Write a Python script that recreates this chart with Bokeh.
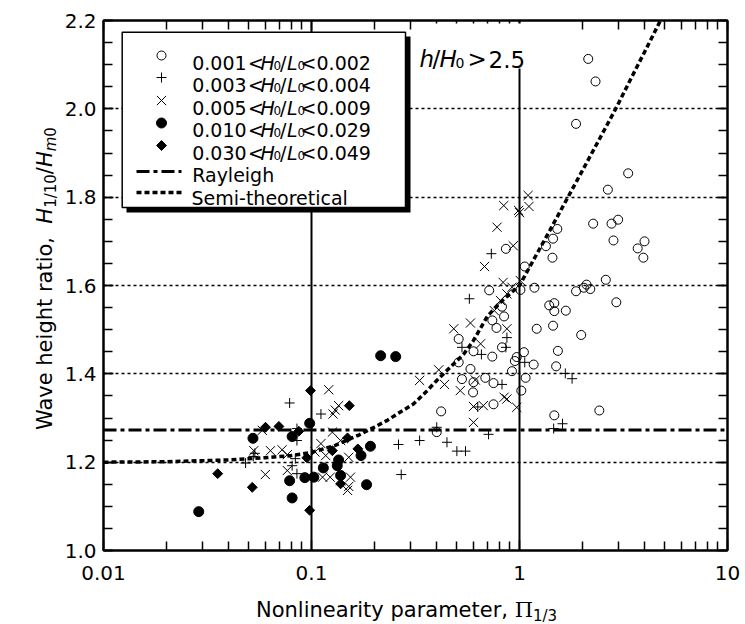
import math
from bokeh.plotting import figure
from bokeh.layouts import row, column
from bokeh.models import (FixedTicker, LogAxis, LinearAxis, Label, BoxAnnotation, Div,
                          CustomJSTickFormatter, PrintfTickFormatter, Span)
from bokeh.embed import file_html
from bokeh.resources import INLINE

# ---------------- data ----------------
# 0.001 < H0/L0 < 0.002  (open circles)
x1 = [2.14, 2.32, 1.87, 3.33, 2.66, 2.26, 2.77, 2.98, 1.52, 1.45, 1.34, 2.83, 3.99, 3.70, 3.94, 1.44,
      0.86, 1.06, 2.60, 2.10, 2.19, 2.04, 1.87, 1.18, 1.01, 0.715, 2.92, 1.39, 1.47, 1.47, 1.67, 0.74,
      0.775, 0.843, 0.824, 1.45, 1.21, 1.98, 0.51, 0.601, 0.74, 0.824, 1.53, 1.05, 0.97, 0.95, 1.17,
      1.50, 0.92, 0.51, 0.581, 0.529, 0.601, 0.685, 0.75, 0.598, 1.07, 1.02, 0.75, 0.42, 0.40, 1.47, 2.42]
y1 = [2.113, 2.062, 1.966, 1.854, 1.817, 1.740, 1.740, 1.749, 1.728, 1.706, 1.689, 1.702, 1.700, 1.684,
      1.663, 1.663, 1.683, 1.643, 1.613, 1.602, 1.592, 1.595, 1.587, 1.595, 1.590, 1.589, 1.562, 1.555,
      1.560, 1.542, 1.543, 1.521, 1.504, 1.530, 1.552, 1.509, 1.502, 1.488, 1.479, 1.451, 1.439, 1.460,
      1.452, 1.449, 1.438, 1.429, 1.421, 1.417, 1.406, 1.426, 1.411, 1.388, 1.381, 1.391, 1.379, 1.358,
      1.391, 1.362, 1.331, 1.315, 1.268, 1.306, 1.317]
# 0.003 < H0/L0 < 0.004  (plus)
x2 = [0.0785, 0.111, 0.0851, 0.0851, 0.0836, 0.0807, 0.0851, 0.262, 0.0525, 0.0482, 0.0534, 0.732,
      0.574, 0.529, 0.656, 0.87, 0.86, 0.824, 0.400, 1.06, 1.66, 1.79, 1.61, 1.46, 0.331, 0.448, 0.50,
      0.55, 0.71, 0.27, 0.63]
y2 = [1.334, 1.309, 1.276, 1.249, 1.208, 1.192, 1.174, 1.240, 1.213, 1.198, 1.220, 1.672, 1.570, 1.460,
      1.444, 1.482, 1.460, 1.376, 1.279, 1.426, 1.401, 1.389, 1.287, 1.276, 1.249, 1.245, 1.225, 1.225,
      1.263, 1.172, 1.325]
# 0.005 < H0/L0 < 0.009  (x)
x3 = [0.121, 0.130, 0.135, 0.127, 0.0580, 0.126, 0.0528, 0.0635, 0.0722, 0.0765, 0.111, 0.104, 0.117,
      0.138, 0.151, 0.060, 0.0765, 0.113, 0.123, 0.138, 0.154, 0.151, 0.149,
      0.679, 0.933, 0.834, 0.757, 0.81, 0.87, 0.92, 0.483, 0.581, 0.87, 0.65, 0.331, 0.409, 0.436, 0.519,
      0.613, 0.601, 0.67, 0.843, 0.97, 0.601,
      1.10, 1.11, 0.99, 0.84, 1.0, 0.78, 1.01, 0.87]
y3 = [1.364, 1.318, 1.328, 1.309, 1.272, 1.268, 1.226, 1.226, 1.228, 1.217, 1.242, 1.223, 1.215,
      1.249, 1.211, 1.172, 1.181, 1.166, 1.166, 1.158, 1.166, 1.145, 1.136,
      1.643, 1.690, 1.607, 1.543, 1.566, 1.581, 1.596, 1.502, 1.515, 1.502, 1.468, 1.385, 1.409, 1.376,
      1.362, 1.386, 1.326, 1.328, 1.347, 1.324, 1.290,
      1.804, 1.779, 1.770, 1.781, 1.765, 1.732, 1.611, 1.343]
# 0.010 < H0/L0 < 0.029  (filled circles)
x4 = [0.0287, 0.0523, 0.098, 0.0807, 0.192, 0.173, 0.135, 0.133, 0.114, 0.0785, 0.0929, 0.1026, 0.138,
      0.184, 0.0807, 0.215, 0.254]
y4 = [1.088, 1.254, 1.288, 1.258, 1.236, 1.215, 1.205, 1.192, 1.187, 1.158, 1.165, 1.166, 1.170,
      1.149, 1.119, 1.441, 1.439]
# 0.030 < H0/L0 < 0.049  (filled diamonds)
x5 = [0.0989, 0.152, 0.0601, 0.0697, 0.0869, 0.149, 0.126, 0.167, 0.095, 0.0519, 0.138, 0.098, 0.0354]
y5 = [1.362, 1.328, 1.279, 1.281, 1.270, 1.255, 1.226, 1.230, 1.210, 1.143, 1.151, 1.091, 1.174]

# semi-theoretical curve
semi_x = [0.01, 0.02, 0.04, 0.06, 0.08, 0.10, 0.13, 0.17, 0.20, 0.23, 0.26, 0.31, 0.36, 0.40, 0.465,
          0.54, 0.60, 0.70, 0.80, 1.0, 1.2, 1.4, 1.71, 2.0, 2.4, 2.9, 3.5, 4.2, 4.76]
semi_y = [1.200, 1.201, 1.205, 1.210, 1.215, 1.222, 1.238, 1.262, 1.279, 1.294, 1.310, 1.332, 1.362,
          1.385, 1.415, 1.445, 1.475, 1.530, 1.560, 1.600, 1.668, 1.725, 1.800, 1.859, 1.928, 2.000,
          2.076, 2.149, 2.200]
rayleigh = 1.273

x_ticks = [0.01, 0.1, 1, 10]
y_ticks = [1.0, 1.2, 1.4, 1.6, 1.8, 2.0, 2.2]
x_range = (0.01, 10)
y_range = (1.0, 2.2)

# ---------------- layout ----------------
W, H = 745, 624
FL, FR, FT, FB = 103, 727, 20, 550      # frame edges in page pixels
YT_W, XT_H = 60, 28                      # side strips that hold the axis titles
FONT = "DejaVu Sans"

x_minor = [d * k for d in x_ticks[:-1] for k in range(2, 10)]
y_minor = [round(y_range[0] + 0.05 * i, 2) for i in range(int(round((y_range[1] - y_range[0]) / 0.05)) + 1)]
y_grid = y_ticks[1:-1]

p = figure(width=W - YT_W, height=H - XT_H, x_axis_type="log", x_range=x_range, y_range=y_range,
           output_backend="svg", toolbar_location=None,
           min_border_left=FL - YT_W, min_border_right=W - FR, min_border_top=FT,
           min_border_bottom=H - XT_H - FB)
p.background_fill_color = "white"
p.border_fill_color = "white"
p.outline_line_color = "black"
p.outline_line_width = 2


def px_x(X):
    lo, hi = math.log10(x_range[0]), math.log10(x_range[1])
    return 10 ** (lo + (hi - lo) * (X - FL) / (FR - FL))


def px_y(Y):
    return y_range[0] + (y_range[1] - y_range[0]) * (FB - Y) / (FB - FT)


def style_axis(ax, labels=True):
    ax.axis_line_width = 2
    ax.axis_line_color = "black"
    ax.major_tick_in = 10
    ax.major_tick_out = 0
    ax.minor_tick_in = 9
    ax.minor_tick_out = 0
    ax.major_tick_line_width = 1.5
    ax.minor_tick_line_width = 1.5
    ax.major_tick_line_color = "black"
    ax.minor_tick_line_color = "black"
    ax.major_label_text_font = FONT
    ax.major_label_text_font_size = "20px"
    ax.major_label_text_color = "black"
    if not labels:
        ax.formatter = CustomJSTickFormatter(code="return ''")
        ax.major_label_standoff = 0


xt = FixedTicker(ticks=x_ticks, minor_ticks=x_minor)
yt = FixedTicker(ticks=y_ticks, minor_ticks=y_minor)
p.xaxis.ticker = xt
p.yaxis.ticker = yt
p.xaxis.formatter = CustomJSTickFormatter(code="return String(tick)")
p.yaxis.formatter = PrintfTickFormatter(format="%.1f")
style_axis(p.xaxis[0])
style_axis(p.yaxis[0])
p.xaxis.major_label_standoff = 15
p.yaxis.major_label_standoff = 7

top = LogAxis(ticker=xt)
style_axis(top, labels=False)
right = LinearAxis(ticker=yt)
style_axis(right, labels=False)
p.add_layout(top, "above")
p.add_layout(right, "right")

p.xgrid.ticker = FixedTicker(ticks=[0.1, 1])
p.xgrid.grid_line_color = "black"
p.xgrid.grid_line_width = 2
p.ygrid.ticker = FixedTicker(ticks=y_grid)
p.ygrid.grid_line_color = "black"
p.ygrid.grid_line_width = 1.5
p.ygrid.grid_line_dash = "3 3"

# reference lines
p.add_layout(Span(location=rayleigh, dimension="width", line_color="black", line_width=3,
                  line_dash="13 4 4 4"))
p.line(semi_x, semi_y, line_color="black", line_width=3.5, line_dash="5 3")

# data markers
p.scatter(x1, y1, marker="circle", size=9, fill_color=None, line_color="black", line_width=1)
p.scatter(x2, y2, marker="cross", size=10, line_color="black", line_width=1)
p.scatter(x3, y3, marker="x", size=13, line_color="black", line_width=1)
p.scatter(x4, y4, marker="circle", size=10, fill_color="black", line_color="black")
p.scatter(x5, y5, marker="square", size=7, angle=math.pi / 4, fill_color="black", line_color="black")


# ---------------- decorations ----------------
def box(l, t, r, b, fill, line=None, lw=1.5):
    p.add_layout(BoxAnnotation(left=px_x(l), right=px_x(r), top=px_y(t), bottom=px_y(b),
                               fill_color=fill, fill_alpha=1, line_color=line, line_width=lw,
                               line_alpha=1 if line else 0))


def txt(X, Y, s, size, style="normal", font=FONT):
    p.add_layout(Label(x=px_x(X), y=px_y(Y), text=s, text_font=font, text_font_size=f"{size}px",
                       text_font_style=style, text_align="left", text_baseline="alphabetic",
                       text_color="black"))


# legend box with drop shadow
box(126, 36, 410, 212, "black")
box(121.7, 31.7, 405, 207, "white", "black", 1.5)
# white patch behind "h/H0 > 2.5"
box(414, 23, 537, 68, "white")

ranges = [("0.001", "0.002"), ("0.003", "0.004"), ("0.005", "0.009"), ("0.010", "0.029"), ("0.030", "0.049")]
baselines = [62.7, 84.5, 107.0, 129.5, 152.0]
for (lo, hi), yb in zip(ranges, baselines):
    txt(191.7, yb, lo, 19)
    txt(247.5, yb, "<", 19)
    txt(260.0, yb, "H", 19, "italic")
    txt(273.0, yb + 2.5, "0", 12)
    txt(279.5, yb, "/", 19)
    txt(286.5, yb, "L", 19, "italic")
    txt(297.0, yb + 2.5, "0", 12)
    txt(300.0, yb, "<", 19)
    txt(316.0, yb, hi, 19)
txt(191.7, 174.5, "Rayleigh", 19)
txt(191.0, 197.0, "Semi-theoretical", 19)

mk_x = px_x(161)
leg_y = [px_y(v) for v in (55, 77, 100, 122.5, 145)]
p.scatter([mk_x], [leg_y[0]], marker="circle", size=9, fill_color=None, line_color="black", level="overlay")
p.scatter([mk_x], [leg_y[1]], marker="cross", size=10, line_color="black", level="overlay")
p.scatter([mk_x], [leg_y[2]], marker="x", size=13, line_color="black", level="overlay")
p.scatter([mk_x], [leg_y[3]], marker="circle", size=10, fill_color="black", line_color="black", level="overlay")
p.scatter([mk_x], [leg_y[4]], marker="square", size=7, angle=math.pi / 4, fill_color="black",
          line_color="black", level="overlay")
p.line([px_x(136), px_x(181)], [px_y(171)] * 2, line_color="black", line_width=3,
       line_dash="13 4 4 4", level="overlay")
p.line([px_x(136), px_x(181)], [px_y(192)] * 2, line_color="black", line_width=3.5,
       line_dash="5 3", level="overlay")

# annotation h/H0 > 2.5
txt(419, 58.5, "h", 23, "italic")
txt(432, 58.5, "/", 23)
txt(439, 58.5, "H", 23, "italic")
txt(455, 62, "0", 14)
txt(467, 58.5, ">", 23)
txt(488, 58.5, "2.5", 23)

# ---------------- axis titles (HTML text, for italics and subscripts) ----------------
SUB = "font-size:15px; line-height:0; vertical-align:-4px;"
BASE = "white-space:nowrap; font-family:'DejaVu Sans'; font-size:21px; line-height:25px; color:#000;"

y_title_html = (
    '<div style="position:relative; width:0; height:0;">'
    f'<div style="position:absolute; left:33px; top:418px; transform-origin:0 0; '
    f'transform:rotate(-90deg); {BASE}">'
    f'Wave height ratio,&nbsp;&nbsp;<i>H</i><span style="{SUB}">1/10</span>/<i>H</i>'
    f'<span style="{SUB}"><i>m</i>0</span></div></div>'
)
x_title_html = (
    '<div style="position:relative; width:0; height:0;">'
    f'<div style="position:absolute; left:{256 - YT_W}px; top:-10px; {BASE}">'
    f'Nonlinearity parameter,&nbsp;<span style="font-family:\'DejaVu Serif\';">\u03a0</span>'
    f'<span style="{SUB}">1/3</span></div></div>'
)
y_title = Div(text=y_title_html, width=YT_W, height=H, margin=0)
x_title = Div(text=x_title_html, width=W - YT_W, height=XT_H, margin=0)

layout = row(y_title, column(p, x_title, spacing=0), spacing=0)

open("out.html", "w").write(file_html(layout, INLINE))
